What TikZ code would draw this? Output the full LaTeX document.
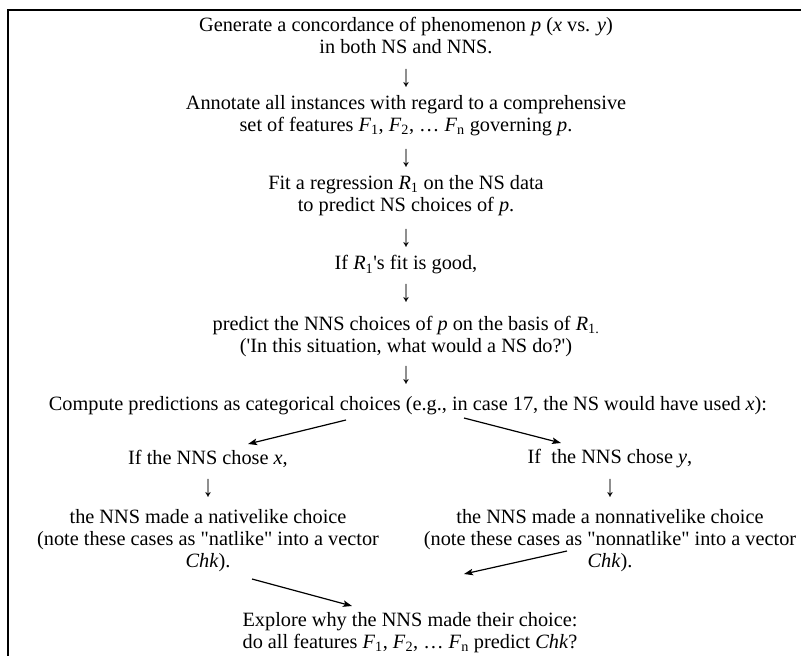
\documentclass[tikz,border=0pt]{standalone}
\usepackage{fontspec}
\usepackage{graphicx}
\newfontfamily\tnr{Liberation Serif}
\usetikzlibrary{arrows.meta}
\tikzset{
  txt/.style={inner sep=0pt, align=center, font=\tnr\fontsize{20.3}{22}\selectfont},
  dn/.style={inner sep=0pt, font=\tnr\fontsize{21}{22}\selectfont},
  arr/.style={line width=1.2pt, -{Stealth[length=9pt,width=6.5pt,inset=2pt]}},
  frame/.style={line width=1.1pt}
}
\newcommand{\vi}[1]{\textit{#1}}
\newcommand{\sbs}[1]{\textsubscript{#1}}
\newcommand{\dnarrow}{\scalebox{1}[1.45]{↓}}
\begin{document}
\begin{tikzpicture}[x=1pt,y=-1pt]
\useasboundingbox (0,0) rectangle (801,656);
\coordinate (fb) at (8,656);
\coordinate (fc) at (8,10);
\coordinate (fr) at (801,10);
\draw[frame] (fb) -- (fc) -- (fr);

\node[txt] (n1) at (406,35.5) {Generate a concordance of phenomenon \vi{p} (\vi{x} vs. \vi{y})\\in both NS and NNS.};
\node[dn] (d1) at (406,78) {\dnarrow};
\node[txt] (n2) at (406,115.5) {Annotate all instances with regard to a comprehensive\\set of features \vi{F}\sbs{1}, \vi{F}\sbs{2}, … \vi{F}\sbs{n} governing \vi{p}.};
\node[dn] (d2) at (406,158) {\dnarrow};
\node[txt] (n3) at (406,196) {Fit a regression \vi{R}\sbs{1} on the NS data\\to predict NS choices of \vi{p}.};
\node[dn] (d3) at (406,238) {\dnarrow};
\node[txt] (n4) at (406,265) {If \vi{R}\sbs{1}'s fit is good,};
\node[dn] (d4) at (406,293) {\dnarrow};
\node[txt] (n5) at (406,336.5) {predict the NNS choices of \vi{p} on the basis of \vi{R}\sbs{1.}\\('In this situation, what would a NS do?')};
\node[dn] (d5) at (406,375) {\dnarrow};
\node[txt] (n6) at (408,406) {Compute predictions as categorical choices (e.g., in case 17, the NS would have used \vi{x}):};

\node[txt] (l1) at (208,459) {If the NNS chose \vi{x},};
\node[dn] (ld) at (208,488) {\dnarrow};
\node[txt] (l2) at (208,541) {the NNS made a nativelike choice\\(note these cases as "natlike" into a vector\\\vi{Chk}).};

\node[txt] (r1) at (610,459) {If\ \ the NNS chose \vi{y},};
\node[dn] (rd) at (610,488) {\dnarrow};
\node[txt] (r2) at (610,541) {the NNS made a nonnativelike choice\\(note these cases as "nonnatlike" into a vector\\\vi{Chk}).};

\node[txt] (n7) at (410,633) {Explore why the NNS made their choice:\\do all features \vi{F}\sbs{1}, \vi{F}\sbs{2}, … \vi{F}\sbs{n} predict \vi{Chk}?};

\coordinate (a1s) at (346,420);
\coordinate (a1e) at (248,444);
\coordinate (a2s) at (464,418);
\coordinate (a2e) at (561,443);
\coordinate (a3s) at (252,579);
\coordinate (a3e) at (352,606);
\coordinate (a4s) at (567,551);
\coordinate (a4e) at (464,574);
\draw[arr] (a1s) -- (a1e);
\draw[arr] (a2s) -- (a2e);
\draw[arr] (a3s) -- (a3e);
\draw[arr] (a4s) -- (a4e);
\end{tikzpicture}
\end{document}
